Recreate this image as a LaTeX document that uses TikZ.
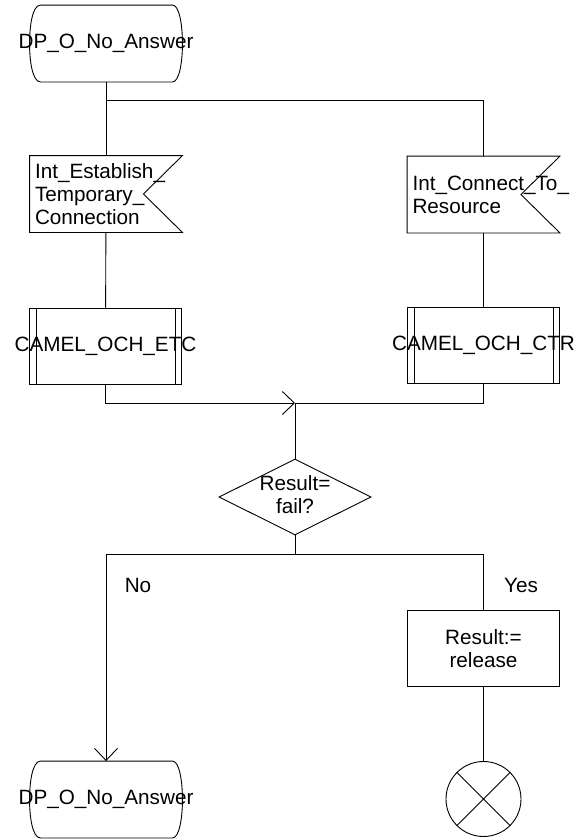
\documentclass[tikz,border=0pt]{standalone}
\usepackage{fontspec}
\setmainfont{Liberation Sans}
\usepackage{tikz}
\usetikzlibrary{arrows.meta, shapes.geometric, calc}
\newcommand{\stateShape}[1]{
\draw ([xshift=11pt]#1.north west) -- ([xshift=-10pt]#1.north east) .. controls ([xshift=-3pt]#1.north east) and ([yshift=18pt]#1.east) .. (#1.east) .. controls ([yshift=-18pt]#1.east) and ([xshift=-3pt]#1.south east) .. ([xshift=-10pt]#1.south east) -- ([xshift=11pt]#1.south west) .. controls ([xshift=3pt]#1.south west) and ([yshift=-18pt]#1.west) .. (#1.west) .. controls ([yshift=18pt]#1.west) and ([xshift=3pt]#1.north west) .. cycle;
}
\newcommand{\inputShape}[1]{
\draw (#1.north west) -- (#1.north east) -- ($(#1.east)+(-39,0)$) -- (#1.south east) -- (#1.south west) -- cycle;
}
\newcommand{\procShape}[1]{
\draw ([xshift=7pt]#1.north west) -- ([xshift=7pt]#1.south west);
\draw ([xshift=-7pt]#1.north east) -- ([xshift=-7pt]#1.south east);
}

\begin{document}
\begin{tikzpicture}[x=1pt, y=-1pt, line width=0.9pt,
    every node/.style={font=\fontsize{20.7pt}{23pt}\selectfont, inner sep=0pt},
    box/.style={minimum width=152pt, minimum height=76pt},
    inbox/.style={box, text width=142pt, inner xsep=5pt, align=left},
    >={Straight Barb[length=12pt, width=23pt]}]
    \useasboundingbox (0,0) rectangle (580,839);
    % Stato iniziale
    \node[box] (start) at (106,43.5) {\makebox[0pt]{DP\_O\_No\_Answer}};
    \stateShape{start}
    % Segnali in ingresso
    \node[inbox] (estab) at (106,194) {Int\_Establish\_\\Temporary\_\\Connection};
    \inputShape{estab}
    \node[inbox] (connect) at (483.5,194.5) {Int\_Connect\_To\_\\Resource};
    \inputShape{connect}
    % Procedure
    \node[box, draw] (etc) at (105.5,346) {\makebox[0pt]{CAMEL\_OCH\_ETC}};
    \procShape{etc}
    \node[box, draw] (ctr) at (483.5,345.5) {\makebox[0pt]{CAMEL\_OCH\_CTR}};
    \procShape{ctr}
    % Decisione
    \node[diamond, draw, minimum width=152pt, minimum height=76pt] (fail) at (295,497) {\makebox[0pt]{\begin{tabular}{@{}c@{}}Result=\\fail?\end{tabular}}};
    \node[box, draw, align=center] (release) at (483.5,648.5) {Result:=\\release};
    % Fine
    \node[circle, draw, minimum size=75pt] (end) at (483.5,799) {};
    \draw (end.north west) -- (end.south east) (end.north east) -- (end.south west);
    \node[box] (stop) at (106,799.5) {\makebox[0pt]{DP\_O\_No\_Answer}};
    \stateShape{stop}
    % Collegamenti
    \coordinate (split) at (106,100);
    \coordinate (merge) at (295,403);
    \coordinate (fork) at (295,554);
    \draw (start) -- (estab);
    \draw (split) -| (connect);
    \draw (estab) -- (etc);
    \draw (connect) -- (ctr);
    \draw[->] (etc) |- (merge);
    \draw (ctr) |- (merge);
    \draw (merge) -- (fail);
    \draw (fail) -- (fork);
    \draw[->] (fork) -| (stop);
    \draw (fork) -| (release);
    \draw (release) -- (end);
    % Etichette
    \node (no) at (138,585) {No};
    \node (yes) at (521,585) {Yes};
\end{tikzpicture}
\end{document}
